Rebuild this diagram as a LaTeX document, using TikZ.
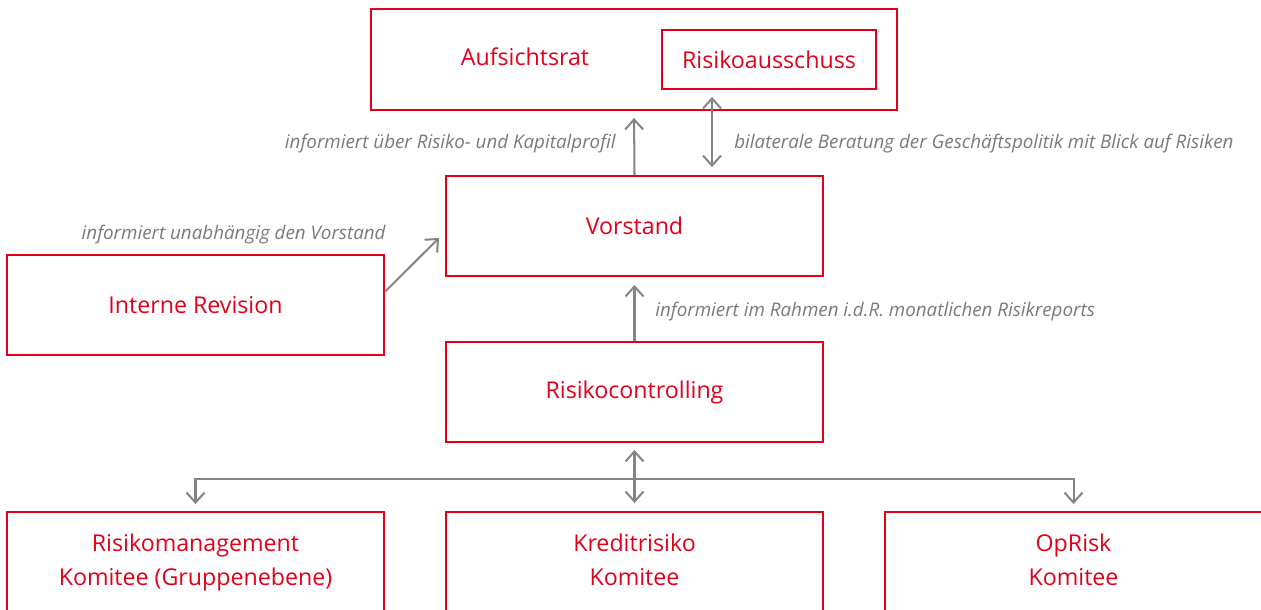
\documentclass[tikz,border=0pt]{standalone}
\usepackage{fontspec}
\setmainfont{Open Sans}
\usetikzlibrary{arrows.meta}

\definecolor{sparred}{HTML}{E2001A}
\definecolor{linegray}{HTML}{858585}
\definecolor{labelgray}{HTML}{7A7A7A}

\begin{document}
\begin{tikzpicture}[x=0.02cm, y=-0.02cm,
    box/.style={draw=sparred, line width=1.1pt, text=sparred, minimum width=7.54cm,
      minimum height=2cm, align=center, inner sep=0pt,
      font=\fontsize{13.2}{19.3}\selectfont},
    redtext/.style={text=sparred, inner sep=0pt, font=\fontsize{13.2}{15}\selectfont},
    note/.style={text=labelgray, inner sep=0pt, font=\itshape\fontsize{10.7}{12}\selectfont},
    arr/.style={draw=linegray, line width=1.15pt, -{Straight Barb[length=0.2cm, width=0.36cm]}},
    darr/.style={draw=linegray, line width=1.15pt, {Straight Barb[length=0.2cm, width=0.36cm]}-{Straight Barb[length=0.2cm, width=0.36cm]}},
  ]
    \useasboundingbox (0, 0) rectangle (1261, 609) ;
    \clip (0, 0) rectangle (1261, 609) ;

    % top
    \node[box, minimum width=10.52cm, minimum height=2.02cm] (aufsicht) at (634, 59.5) {} ;
    \node[redtext] (aufsichtlabel) at (525, 57) {Aufsichtsrat} ;
    \node[box, minimum width=4.28cm, minimum height=1.18cm] (ausschuss) at (769, 59.5) {Risikoausschuss} ;

    % middle
    \node[box] (vorstand) at (634.5, 226) {Vorstand} ;
    \node[box] (revision) at (195.5, 305) {Interne Revision} ;
    \node[box] (controlling) at (634.5, 392) {Risikocontrolling} ;

    % committees
    \node[box] (rmk) at (195.5, 562) {\strut Risikomanagement\\\strut Komitee (Gruppenebene)} ;
    \node[box] (kredit) at (634.5, 562) {\strut Kreditrisiko\\\strut Komitee} ;
    \node[box] (oprisk) at (1073.5, 562) {\strut OpRisk\\\strut Komitee} ;

    \coordinate (bilat) at (712, 0) ;
    \coordinate (revtip) at (439, 238) ;
    \coordinate (split) at (634.5, 479) ;

    \draw[arr, shorten >=0.14cm] (vorstand.north) -- (aufsicht.south) ;
    \draw[darr, shorten >=0.14cm, shorten <=0.16cm] (vorstand.north -| bilat) -- (ausschuss.south -| bilat) ;
    \draw[arr] (revision.4) -- (revtip) ;
    \draw[arr, shorten >=0.16cm] (controlling.north) -- (vorstand.south) ;
    \draw[darr, shorten >=0.14cm, shorten <=0.16cm] (kredit.north) -- (controlling.south) ;
    \draw[arr, shorten >=0.14cm] (split) -| (rmk.north) ;
    \draw[arr, shorten >=0.14cm] (split) -| (oprisk.north) ;

    % labels
    \node[note, anchor=base east] (lbkapital) at (616, 148) {informiert über Risiko- und Kapitalprofil} ;
    \node[note, anchor=base west] (lbberatung) at (734, 148) {bilaterale Beratung der Geschäftspolitik mit Blick auf Risiken} ;
    \node[note, anchor=base east] (lbrevision) at (386, 239) {informiert unabhängig den Vorstand} ;
    \node[note, anchor=base west] (lbreport) at (655, 316) {informiert im Rahmen i.d.R. monatlichen Risikreports} ;
  \end{tikzpicture}
\end{document}
